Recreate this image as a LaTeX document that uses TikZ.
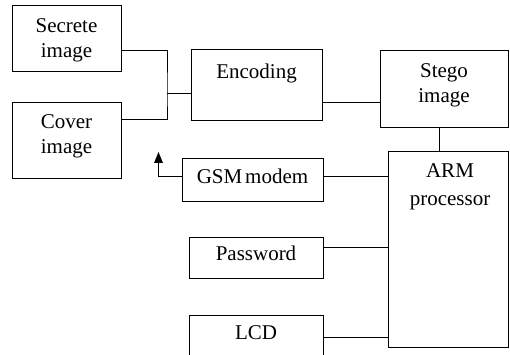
\documentclass[tikz,border=0pt]{standalone}
\usepackage{fontspec}
\setmainfont{Liberation Serif}
\usetikzlibrary{calc}
\tikzset{
  blk/.style={draw, line width=1pt, inner sep=0pt},
  lbl/.style={anchor=north, inner sep=0pt, align=center,
              font=\fontsize{21}{25}\selectfont},
  wire/.style={line width=1pt}
}
% box given by its corners in pixel units (y grows downwards)
\newcommand{\pbox}[5]{%
  \node[blk, minimum width={(#4-#2)*1pt}, minimum height={(#5-#3)*1pt}]
    (#1) at ({(#2+#4)/2},{(#3+#5)/2}) {};}
\begin{document}
\begin{tikzpicture}[x=1pt, y=-1pt]
  \clip (0,0) rectangle (510,355);
  \fill[white] (0,0) rectangle (510,355);

  % blocks
  \pbox{sec}{12}{6}{121}{72}
  \pbox{cov}{12}{103}{121}{179}
  \pbox{enc}{191}{50}{322}{121}
  \pbox{stego}{380}{51}{508}{128}
  \pbox{arm}{388}{152}{508}{347}
  \pbox{gsm}{182}{159}{323}{201}
  \pbox{pwd}{189}{237}{323}{278}
  \pbox{lcd}{189}{315}{323}{360}

  % block texts
  \node[lbl] (sec-t)   at (66.5,18)  {Secrete\\image};
  \node[lbl] (cov-t)   at (66.5,114) {Cover\\image};
  \node[lbl] (enc-t)   at (256.5,64) {Encoding};
  \node[lbl] (stego-t) at (444,63)   {Stego\\image};
  \node[lbl] (arm-t)   at (450,163)  {ARM\\[3pt]processor};
  \node[lbl] (gsm-t)   at (252.5,169) {GSM\hspace{0.14em}modem};
  \node[lbl] (pwd-t)   at (256,246)  {Password};
  \node[lbl] (lcd-t)   at (256,325)  {LCD};

  % connections
  \coordinate (bus) at (167,94);
  \coordinate (stem) at (158.5,162);
  \draw[wire] ([yshift=-11.5pt]sec.east) -| (bus) |- ([yshift=21pt]cov.east);
  \draw[wire] (bus) -- (bus -| enc.west);
  \draw[wire] ([yshift=-17.5pt]enc.east) -- ([yshift=-17.5pt]enc.east -| stego.west);
  \draw[wire] ([xshift=-5pt]stego.south) -- ([xshift=-5pt]stego.south |- arm.north);
  \draw[wire] ([yshift=3pt]gsm.east) -- ([yshift=3pt]gsm.east -| arm.west);
  \draw[wire] ([yshift=3pt]gsm.west) -| (stem);
  % filled arrow head on the GSM output
  \fill ($(stem)+(0,-10)$) -- ($(stem)+(-4.5,1)$) -- ($(stem)+(4.5,1)$) -- cycle;
  \draw[wire] ([yshift=10.5pt]pwd.east) -- ([yshift=10.5pt]pwd.east -| arm.west);
  \draw[wire] (lcd.east) -- (lcd.east -| arm.west);
\end{tikzpicture}
\end{document}
